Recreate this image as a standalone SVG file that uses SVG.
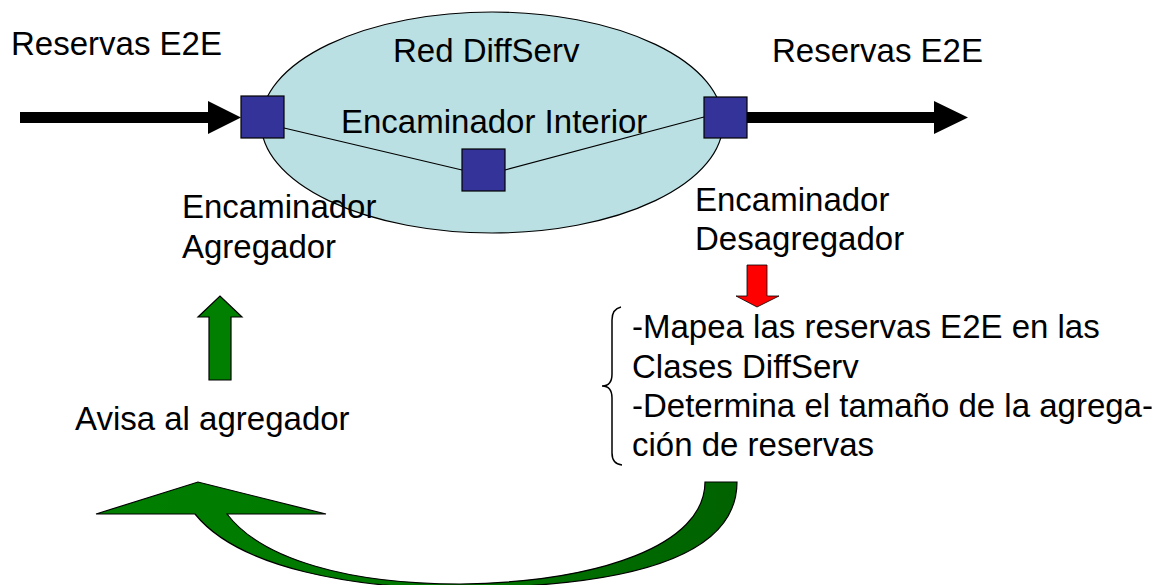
<svg xmlns="http://www.w3.org/2000/svg" width="1168" height="585" viewBox="0 0 1168 585">
  <defs>
    <style>
      text { font-family: "Liberation Sans", Arial, sans-serif; font-size: 33px; fill: #000; }
      .router { fill: #333399; stroke: #000; stroke-width: 1.2; }
      .link { stroke: #000; stroke-width: 1.2; fill: none; }
      .green { fill: #007F00; stroke: #000; stroke-width: 1.2; stroke-linejoin: miter; }
    </style>
    <linearGradient id="curveFill" x1="0" y1="0" x2="1" y2="0">
      <stop offset="0" stop-color="#007F00"/>
      <stop offset="0.55" stop-color="#007700"/>
      <stop offset="1" stop-color="#006200"/>
    </linearGradient>
  </defs>
  <rect width="1168" height="585" fill="#fff"/>

  <g id="network">
    <ellipse cx="492" cy="122.5" rx="231" ry="110.5" fill="#BBE0E3" stroke="#000" stroke-width="1.2"/>
    <text x="393" y="62">Red DiffServ</text>
    <text x="341" y="133">Encaminador Interior</text>
  </g>

  <g id="connectors">
    <line class="link" x1="284" y1="128" x2="462" y2="170"/>
    <line class="link" x1="505" y1="170" x2="704" y2="117"/>
    <path d="M20,112 L208,112 L208,101 L241,117.5 L208,134 L208,123 L20,123 Z" fill="#000"/>
    <path d="M747,112 L934,112 L934,101 L968,117.5 L934,134 L934,123 L747,123 Z" fill="#000"/>
    <path d="M747,265 L767,265 L767,296 L779,296 L757,307 L736,296 L747,296 Z" fill="#FF0000" stroke="#000" stroke-width="0.8"/>
    <path class="green" d="M209,380 L209,317 L198,317 L220,296 L242,317 L231,317 L231,380 Z"/>
    <path d="M96,514 L198,482 L326,514 L227,514 C262,560 350,584 460,584 C600,582 705,545 705,482 L737,482 C737,560 620,588 450,588 C360,588 240,570 195,514 Z" fill="url(#curveFill)" stroke="#000" stroke-width="1.2"/>
  </g>

  <g id="router-aggregator">
    <rect class="router" x="241" y="96" width="43" height="42"/>
  </g>
  <g id="router-interior">
    <rect class="router" x="462" y="149" width="43" height="42"/>
  </g>
  <g id="router-deaggregator">
    <rect class="router" x="704" y="97" width="43" height="41"/>
  </g>

  <g id="labels">
    <text x="11" y="55">Reservas E2E</text>
    <text x="772" y="62">Reservas E2E</text>
    <text x="182" y="218">Encaminador</text>
    <text x="182" y="258">Agregador</text>
    <text x="695" y="211">Encaminador</text>
    <text x="695" y="250">Desagregador</text>
    <text x="75" y="430">Avisa al agregador</text>
  </g>

  <g id="actions">
    <path d="M621,307 Q612,309 612,320 L612,374 Q612,386 602,386 Q612,386 612,398 L612,453 Q612,464 622,465" fill="none" stroke="#000" stroke-width="1.5"/>
    <text x="632" y="338">-Mapea las reservas E2E en las</text>
    <text x="632" y="378">Clases DiffServ</text>
    <text x="632" y="417">-Determina el tamaño de la agrega-</text>
    <text x="632" y="456">ción de reservas</text>
  </g>
</svg>
